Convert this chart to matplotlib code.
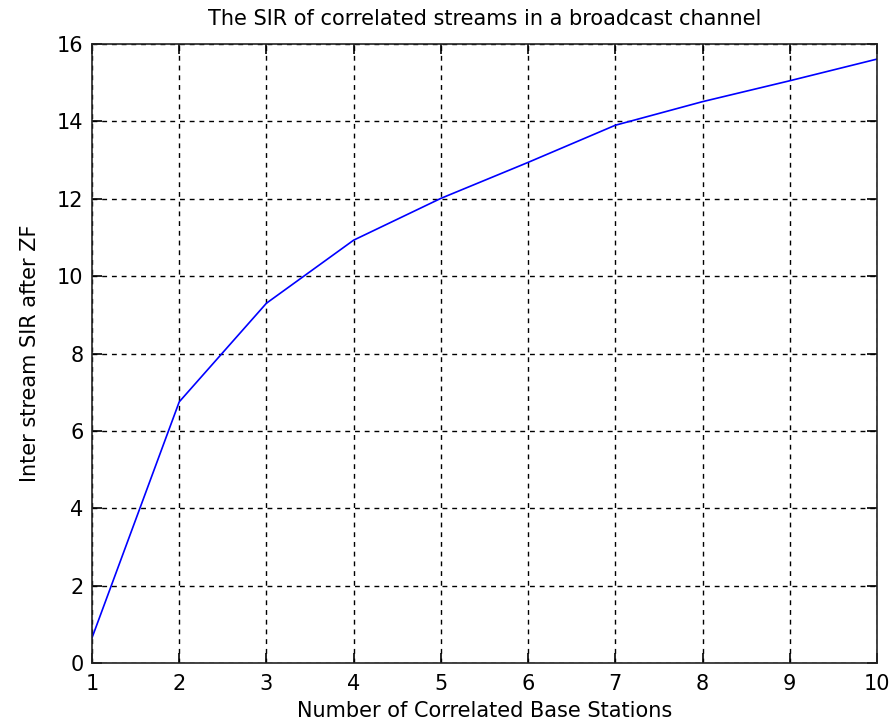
import matplotlib
matplotlib.use("Agg")
import matplotlib.pyplot as plt

num_bs = [1, 2, 3, 4, 5, 6, 7, 8, 9, 10]
sir = [0.65, 6.75, 9.3, 10.93, 12.01, 12.94, 13.9, 14.51, 15.05, 15.61]
xticks = list(range(1, 11))
yticks = list(range(0, 17, 2))

plt.rcParams['font.family'] = ['DejaVu Sans']

fig = plt.figure(figsize=(8.96, 7.26), dpi=100)
ax = fig.add_axes([92/896, 63/726, 785/896, 619/726])
ax.plot(num_bs, sir, color='#0000ff', linewidth=1.2)
ax.set_xlim(1, 10)
ax.set_ylim(0, 16)
ax.set_xticks(xticks)
ax.set_yticks(yticks)
ax.grid(True, color='black', linestyle=(0, (3.5, 3.5)), linewidth=1.0)
ax.tick_params(direction='in', length=7, width=1.2, top=True, right=True,
               labelsize=15, colors='black')
ax.tick_params(axis='x', pad=8)
ax.tick_params(axis='y', pad=6)
for s in ax.spines.values():
    s.set_linewidth(1.2)
    s.set_color('#222222')
ax.set_xlabel('Number of Correlated Base Stations', fontsize=15, labelpad=5)
ax.set_ylabel('Inter stream SIR after ZF', fontsize=15, labelpad=12)
ax.set_title('The SIR of correlated streams in a broadcast channel', fontsize=15, pad=14)
fig.savefig('out.png', dpi=100, facecolor='white')
